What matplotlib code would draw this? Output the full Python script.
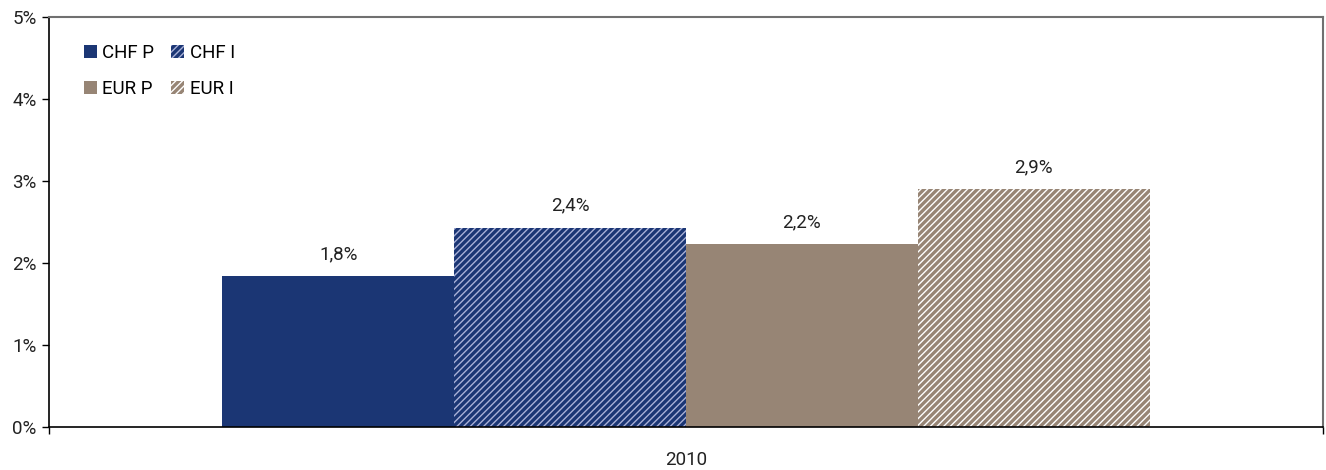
import matplotlib.pyplot as plt
from matplotlib.patches import Patch

# data
series = ['CHF P', 'CHF I', 'EUR P', 'EUR I']
values = [1.84, 2.43, 2.23, 2.90]
value_labels = ['1,8%', '2,4%', '2,2%', '2,9%']
category = ['2010']

face_colors = ['#1b3674', '#aab2d8', '#978575', '#ffffff']
hatch_colors = ['#1b3674', '#1b3674', '#978575', '#978575']
hatches = [None, '/////', None, '/////']

plt.rcParams['font.family'] = ['Roboto', 'DejaVu Sans']
plt.rcParams['hatch.linewidth'] = 2.4

fs = 13.5
fig = plt.figure(figsize=(13.26, 4.70), dpi=100)
ax = fig.add_axes([49 / 1326, 43 / 470, 1274 / 1326, 410 / 470])

w = 0.182
offsets = [-1.5 * w, -0.5 * w, 0.5 * w, 1.5 * w]
for i in range(len(series)):
    ax.bar(offsets[i], values[i], width=w, color=face_colors[i], edgecolor=hatch_colors[i],
           hatch=hatches[i], linewidth=0, label=series[i])
    ax.annotate(value_labels[i], (offsets[i], values[i]), xytext=(0, 16), textcoords='offset points',
                ha='center', va='center', fontsize=fs, color='#222222')

ax.set_xlim(-0.5, 0.5)
ax.set_ylim(0, 5)
ax.set_yticks([0, 1, 2, 3, 4, 5])
ax.set_yticklabels([f'{v}%' for v in range(6)], fontsize=fs, color='#222222')
ax.set_xticks([0])
ax.set_xticklabels(category, fontsize=fs, color='#222222')
ax.tick_params(axis='x', length=0, pad=17)
ax.set_xticks([-0.5, 0.5], minor=True)
ax.tick_params(axis='x', which='minor', length=5, direction='out', width=1)
ax.tick_params(axis='y', length=5, width=1, direction='out', pad=4)

for s in ['left', 'bottom']:
    ax.spines[s].set_color('black')
    ax.spines[s].set_linewidth(1.2)
for s in ['top', 'right']:
    ax.spines[s].set_color('#707070')
    ax.spines[s].set_linewidth(1.5)

# legend in two rows: CHF P, CHF I / EUR P, EUR I
handles = []
order = [0, 2, 1, 3]
for i in order:
    handles.append(Patch(facecolor=face_colors[i], edgecolor=hatch_colors[i], hatch=hatches[i], linewidth=0))
leg = ax.legend(handles, [series[i] for i in order], ncol=2, loc='upper left',
                bbox_to_anchor=(0.014, 0.975), frameon=False, fontsize=fs,
                handlelength=0.7, handleheight=0.7, handletextpad=0.3,
                columnspacing=0.9, labelspacing=0.95)

fig.savefig('out.png', dpi=100)
